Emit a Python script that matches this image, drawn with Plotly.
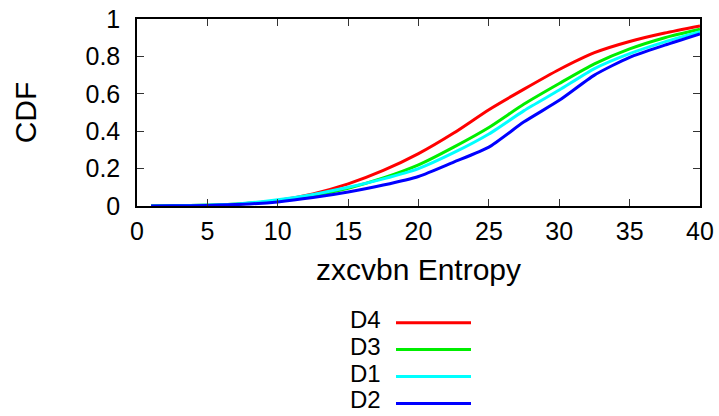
import plotly.graph_objects as go

# ---- data ----
entropy = [1, 2.5, 5, 7.5, 10, 12.5, 15, 17.5, 20, 22.5, 25, 27.5, 30, 32.5, 35, 37.5, 40]
cdf_d4 = [0, 0.001, 0.004, 0.012, 0.030, 0.065, 0.118, 0.190, 0.280, 0.390, 0.515, 0.625, 0.730, 0.820, 0.880, 0.925, 0.963]
cdf_d3 = [0, 0.001, 0.004, 0.012, 0.028, 0.055, 0.095, 0.150, 0.220, 0.315, 0.420, 0.545, 0.655, 0.760, 0.840, 0.900, 0.945]
cdf_d1 = [0, 0.001, 0.005, 0.014, 0.033, 0.062, 0.100, 0.145, 0.200, 0.285, 0.385, 0.510, 0.620, 0.735, 0.815, 0.878, 0.932]
cdf_d2 = [0, 0.001, 0.003, 0.009, 0.022, 0.045, 0.075, 0.112, 0.158, 0.235, 0.315, 0.450, 0.565, 0.700, 0.795, 0.860, 0.920]

series_names = ["D4", "D3", "D1", "D2"]
series_values = [cdf_d4, cdf_d3, cdf_d1, cdf_d2]
series_colors = ["#ff0000", "#00ee00", "#00ffff", "#0000ff"]

x_ticks = [0, 5, 10, 15, 20, 25, 30, 35, 40]
y_ticks = [0, 0.2, 0.4, 0.6, 0.8, 1]

W, H = 719, 416
L, R, T, B = 137, 19, 19, 210
FONT = "Liberation Sans, Arial, Helvetica, sans-serif"

fig = go.Figure()
for name, vals, col in zip(series_names, series_values, series_colors):
    fig.add_trace(go.Scatter(x=entropy, y=vals, mode="lines", name=name,
                             line=dict(color=col, width=3, shape="spline", smoothing=0.6),
                             showlegend=False))

axis_common = dict(showline=True, linecolor="black", linewidth=1.5, mirror="ticks",
                   ticks="inside", ticklen=7, tickwidth=1, tickcolor="#333",
                   showgrid=False, zeroline=False, automargin=False,
                   tickfont=dict(family=FONT, size=25, color="black"))

fig.update_xaxes(range=[0, 40], tickvals=x_ticks, ticklabelstandoff=2,
                 title=dict(text="zxcvbn Entropy", font=dict(family=FONT, size=30, color="black"), standoff=15),
                 **axis_common)
fig.update_yaxes(range=[0, 1], tickvals=y_ticks, ticklabelstandoff=10,
                 title=dict(text="CDF", font=dict(family=FONT, size=30, color="black"), standoff=40),
                 **axis_common)

# manual legend (text left of line sample), positioned in pixels -> paper coords
pw, ph = W - L - R, H - T - B
def px(x):
    return (x - L) / pw
def py(y):
    return (H - B - y) / ph

leg_y0, leg_dy = 322.7, 26.9
for i, (name, col) in enumerate(zip(series_names, series_colors)):
    yy = leg_y0 + i * leg_dy
    fig.add_annotation(x=px(383), y=py(yy - 3.5), xref="paper", yref="paper", text=name,
                       showarrow=False, xanchor="right", yanchor="middle",
                       font=dict(family=FONT, size=24, color="black"))
    fig.add_shape(type="line", xref="paper", yref="paper", x0=px(396), x1=px(471),
                  y0=py(yy), y1=py(yy), line=dict(color=col, width=3))

fig.update_layout(width=W, height=H, margin=dict(l=L, r=R, t=T, b=B, autoexpand=False),
                  paper_bgcolor="white", plot_bgcolor="white",
                  font=dict(family=FONT, color="black"))

fig.write_html("out.html")
